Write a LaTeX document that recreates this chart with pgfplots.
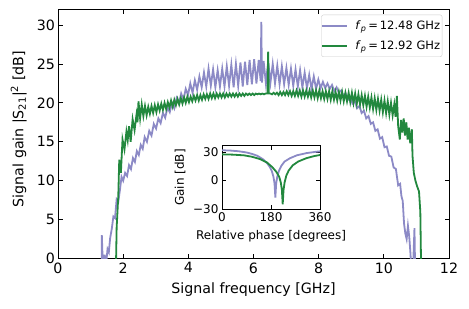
\documentclass[border=0pt]{standalone}
\usepackage{fontspec}
\setmainfont{DejaVu Sans}
\usepackage{pgfplots}
\pgfplotsset{compat=1.18}
\definecolor{cpurple}{RGB}{140,138,198}
\definecolor{cgreen}{RGB}{34,136,62}
\newcommand{\mainfont}{\fontsize{14.2bp}{17bp}\selectfont}
\newcommand{\legfont}{\fontsize{11.5bp}{13.8bp}\selectfont}
\newcommand{\insfont}{\fontsize{12bp}{14.4bp}\selectfont}
\begin{document}
\begin{tikzpicture}
\path[use as bounding box] (-58bp,-50.3bp) rectangle (411bp,258.5bp);
\begin{axis}[
  at={(0,0)}, anchor=south west,
  width=391bp, height=249bp, scale only axis,
  xmin=0, xmax=12, ymin=0, ymax=32,
  xtick={0,2,...,12}, ytick={0,5,...,30},
  tick align=inside, major tick length=4.5bp,
  every tick/.style={black, line width=0.9bp},
  axis line style={line width=1bp},
  /pgf/number format/assume math mode=true,
  tick label style={font=\mainfont},
  xticklabel style={yshift=-0.5bp},
  yticklabel style={xshift=0.5bp},
  label style={font=\mainfont},
  xlabel={Signal frequency [GHz]},
  ylabel={Signal gain |S\textsubscript{21}|\textsuperscript{2} [dB]},
  xlabel style={at={(axis description cs:0.5,-0.1418)}, anchor=base, inner sep=0pt},
  ylabel style={at={(axis description cs:-0.0887,0.52)}, anchor=base, inner sep=0pt},
  legend image code/.code={\draw[#1, line width=1.9bp] (0bp,0bp) -- (25bp,0bp); \path (30bp,0bp);},
  legend style={at={(1,1)}, anchor=north east, xshift=-6.7bp, yshift=-5.2bp,
    draw=black!20, rounded corners=2bp, fill=white, font=\legfont,
    inner xsep=0bp, inner ysep=3.8bp, row sep=5.8bp},
  legend cell align=left,
]
\addplot[cpurple, line width=1.8bp] coordinates {
(1.340,-3) (1.345,3.0) (1.385,-2) (1.43,0.5) (1.47,-1) (1.52,1.2) (1.56,0.8) (1.60,2.6)
(1.65,3.8) (1.70,5.4) (1.75,5.2) (1.80,7.6) (1.85,7.3) (1.90,8.8) (1.95,10.5) (2.00,10.0)
(2.06,11.0) (2.12,10.6) (2.18,12.0) (2.24,11.5) (2.30,12.9) (2.36,12.4) (2.42,13.8) (2.48,13.3)
(2.54,14.6) (2.60,14.1) (2.66,15.6) (2.73,15.0) (2.80,16.4) (2.87,15.8) (2.94,17.3) (3.01,16.7)
(3.08,18.0) (3.15,17.4) (3.22,18.7) (3.29,18.1) (3.36,19.4) (3.43,18.8) (3.50,20.0) (3.57,19.3)
(3.64,20.6) (3.71,19.9) (3.78,21.2) (3.85,20.4) (3.92,21.8) (3.99,21.0) (4.06,22.5) (4.13,21.3)
(4.20,22.9) (4.27,21.7) (4.34,23.4) (4.41,22.0) (4.48,23.9) (4.55,22.1) (4.62,24.4) (4.69,22.2)
(4.76,24.3) (4.83,22.0) (4.90,24.2) (4.97,22.1) (5.04,24.4) (5.11,22.1) (5.18,24.7) (5.25,22.2)
(5.32,24.9) (5.39,22.0) (5.46,25.0) (5.53,22.2) (5.60,25.2) (5.67,22.1) (5.74,25.3) (5.81,22.3)
(5.88,25.5) (5.95,22.4) (6.02,25.6) (6.09,22.5) (6.16,25.5) (6.22,22.8) (6.24,30.4) (6.26,22.6)
(6.31,25.4) (6.38,22.5) (6.45,25.3) (6.52,22.6) (6.59,25.0) (6.66,22.5) (6.73,24.8) (6.80,22.4)
(6.87,24.7) (6.94,22.4) (7.01,24.5) (7.08,22.3) (7.15,24.4) (7.22,22.2) (7.29,24.3) (7.36,22.1)
(7.43,24.2) (7.50,22.0) (7.57,23.9) (7.64,21.9) (7.71,23.6) (7.78,21.8) (7.85,23.4) (7.92,21.8)
(7.99,23.0) (8.06,21.9) (8.13,22.7) (8.20,21.9) (8.27,22.5) (8.34,21.8) (8.41,22.3) (8.48,21.5)
(8.55,22.0) (8.62,21.3) (8.69,21.6) (8.76,20.9) (8.83,21.2) (8.90,20.4) (8.97,20.7) (9.04,19.9)
(9.11,20.2) (9.18,19.3) (9.25,19.6) (9.32,18.7) (9.39,19.0) (9.46,18.0) (9.53,18.3) (9.60,17.3)
(9.67,17.5) (9.74,16.4) (9.81,16.6) (9.88,15.4) (9.95,15.6) (10.02,14.3) (10.09,14.4) (10.16,13.2)
(10.23,13.1) (10.30,11.7) (10.37,11.5) (10.44,9.4) (10.50,9.6) (10.54,8.0) (10.58,7.4) (10.62,4.5)
(10.66,3.2) (10.70,2.5) (10.74,4.2) (10.78,2.8) (10.82,0.5) (10.86,-4) (10.90,-1) (10.94,3.9) (10.97,-4)
};
\addlegendentry{\textit{f}\textsubscript{\textit{p}}\,=\,12.48 GHz}
\addplot[cgreen, line width=1.8bp] coordinates {
(1.77,-3) (1.80,4) (1.85,8) (1.88,12.7) (1.93,11.0) (1.98,15.3) (2.04,14.0) (2.10,16.3)
(2.14,15.2) (2.18,17.0) (2.23,15.0) (2.29,17.9) (2.35,16.5) (2.41,18.5) (2.44,17.5) (2.47,20.2)
(2.52,18.0) (2.57,19.8) (2.62,18.3) (2.67,19.6) (2.72,18.4) (2.77,19.5) (2.82,18.6) (2.87,19.6)
(2.92,18.7) (2.97,19.7) (3.02,18.8) (3.07,19.8) (3.12,19.0) (3.17,19.9) (3.22,19.1) (3.27,20.0)
(3.32,19.2) (3.37,20.1) (3.42,19.4) (3.47,20.3) (3.52,19.5) (3.57,20.4) (3.62,19.7) (3.67,20.5)
(3.72,19.8) (3.77,20.6) (3.82,19.9) (3.87,20.7) (3.92,20.0) (3.97,20.8) (4.02,20.1) (4.07,20.8)
(4.12,20.2) (4.17,20.9) (4.22,20.3) (4.27,21.0) (4.32,20.3) (4.37,21.0) (4.42,20.4) (4.47,21.1)
(4.52,20.5) (4.57,21.1) (4.62,20.5) (4.67,21.2) (4.72,20.6) (4.77,21.2) (4.82,20.6) (4.87,21.2)
(4.92,20.7) (4.97,21.2) (5.02,20.7) (5.07,21.2) (5.12,20.7) (5.17,21.2) (5.22,20.8) (5.27,21.2)
(5.32,20.8) (5.37,21.2) (5.42,20.8) (5.47,21.2) (5.52,20.8) (5.57,21.2) (5.62,20.9) (5.67,21.2)
(5.72,20.9) (5.77,21.2) (5.82,21.0) (5.87,21.2) (5.92,21.0) (5.97,21.2) (6.02,21.0) (6.07,21.2)
(6.12,21.1) (6.17,21.2) (6.22,21.1) (6.27,21.2) (6.32,21.1) (6.37,21.2) (6.43,21.2) (6.45,26.6)
(6.47,21.2) (6.52,21.2) (6.57,21.1) (6.62,21.3) (6.67,21.1) (6.72,21.3) (6.77,21.0) (6.82,21.4)
(6.87,21.0) (6.92,21.4) (6.97,21.0) (7.02,21.5) (7.07,21.0) (7.12,21.5) (7.17,20.9) (7.22,21.5)
(7.27,20.9) (7.32,21.6) (7.37,20.9) (7.42,21.6) (7.47,20.8) (7.52,21.6) (7.57,20.8) (7.62,21.6)
(7.67,20.8) (7.72,21.6) (7.77,20.7) (7.82,21.6) (7.87,20.7) (7.92,21.6) (7.97,20.6) (8.02,21.6)
(8.07,20.6) (8.12,21.5) (8.17,20.5) (8.22,21.5) (8.27,20.5) (8.32,21.5) (8.37,20.4) (8.42,21.5)
(8.47,20.4) (8.52,21.4) (8.57,20.3) (8.62,21.4) (8.67,20.3) (8.72,21.4) (8.77,20.2) (8.82,21.3)
(8.87,20.2) (8.92,21.3) (8.97,20.1) (9.02,21.3) (9.07,20.0) (9.12,21.2) (9.17,19.9) (9.22,21.1)
(9.27,19.8) (9.32,21.0) (9.37,19.7) (9.42,20.9) (9.47,19.5) (9.52,20.8) (9.57,19.4) (9.62,20.7)
(9.67,19.2) (9.72,20.6) (9.77,19.1) (9.82,20.5) (9.87,19.0) (9.92,20.4) (9.97,18.8) (10.02,20.3)
(10.07,18.7) (10.12,20.2) (10.17,18.5) (10.22,20.0) (10.27,18.4) (10.32,19.8) (10.36,18.2) (10.40,20.9)
(10.44,17.0) (10.49,15.3) (10.53,17.8) (10.57,16.2) (10.61,18.0) (10.65,15.8) (10.69,17.5) (10.73,15.3)
(10.77,16.8) (10.81,14.8) (10.86,16.6) (10.88,13.2) (10.92,11.0) (10.97,10.0) (11.02,9.3) (11.08,8.6)
(11.12,6) (11.15,-3)
};
\addlegendentry{\textit{f}\textsubscript{\textit{p}}\,=\,12.92 GHz}
\end{axis}
\begin{axis}[
  at={(164bp,49.4bp)}, anchor=south west,
  width=98bp, height=63.3bp, scale only axis,
  axis background/.style={fill=white},
  xmin=0, xmax=360, ymin=-30, ymax=36.5,
  xtick={0,180,360}, ytick={-30,0,30},
  xticklabels={0,180,360}, yticklabels={−30,0,30},
  tick align=inside, major tick length=4bp,
  every tick/.style={black, line width=0.9bp},
  axis line style={line width=1bp},
  tick label style={font=\insfont},
  xticklabel style={yshift=0bp},
  label style={font=\insfont},
  xlabel={Relative phase [degrees]},
  ylabel={Gain [dB]},
  xlabel style={at={(axis description cs:0.5,-0.474)}, anchor=base, inner sep=0pt},
  ylabel style={at={(axis description cs:-0.388,0.5)}, anchor=base, inner sep=0pt},
]
\addplot[cpurple, line width=1.8bp] coordinates {
(0,31.8) (30,31.5) (60,30.8) (90,29.5) (110,28) (130,26) (150,22.5) (165,18.5) (175,14.5)
(183,10) (189,4) (193,-3) (196,-18) (199,-3) (203,4) (209,10) (218,15.5) (230,20) (250,23.5)
(275,26.5) (310,28.8) (340,30) (360,30.7)
};
\addplot[cgreen, line width=1.8bp] coordinates {
(0,27.5) (40,27.2) (80,26.5) (110,25) (140,22.5) (165,19) (185,14) (200,9) (210,4) (216,-2)
(220,-10) (223,-25) (226,-10) (230,-2) (236,5) (245,10.5) (260,16) (280,20) (310,23.5)
(340,25.8) (360,26.8)
};
\end{axis}
\end{tikzpicture}
\end{document}
